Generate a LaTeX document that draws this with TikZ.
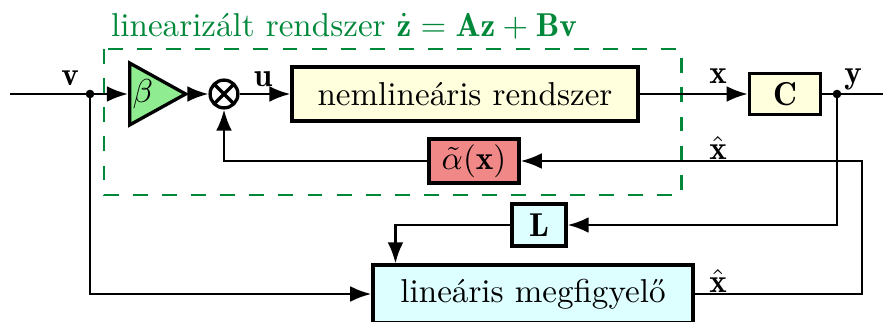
\documentclass[tikz,border=0pt]{standalone}
\usepackage{fontspec}
\usepackage{amsmath,amssymb}
\usetikzlibrary{arrows.meta,positioning,shapes.geometric}
\definecolor{dgreen}{RGB}{0,136,58}
\definecolor{lgreen}{RGB}{144,236,144}
\definecolor{lyellow}{RGB}{255,255,221}
\definecolor{lcyan}{RGB}{221,255,255}
\definecolor{lred}{RGB}{240,136,136}

\begin{document}
\begin{tikzpicture}[x=.3021pt,y=-.3021pt,>=Latex,line width=.75pt,
 blk/.style={draw,line width=1pt,inner sep=1pt},
 gain/.style={draw,line width=1pt,fill=lgreen,isosceles triangle,isosceles triangle stretches,
  minimum width=18.7pt,minimum height=14.5pt,inner sep=0pt},
 mixer/.style={draw,line width=1pt,circle,minimum size=8.4pt,inner sep=0pt,
  path picture={\draw[line width=1pt] (path picture bounding box.north west)--(path picture bounding box.south east)
   (path picture bounding box.north east)--(path picture bounding box.south west);}},
 dot/.style={circle,fill,inner sep=0pt,minimum size=2.6pt}]
 \useasboundingbox (0,0) rectangle (883,321);
 % linearizalt resz
 \draw[dgreen,line width=.9pt,dash pattern=on 4.5pt off 4.3pt] (104,49) rectangle (681,195);
 \node[text=dgreen] (ttl) at (344,26) {linearizált rendszer $\dot{\mathbf{z}}=\mathbf{Az}+\mathbf{Bv}$};
 \coordinate (in) at (10,94);
 \coordinate (out) at (883,94);
 \coordinate (fb) at (862,294);
 \node[dot] (vd) at (90,94) {};
 \node[gain,anchor=west] (g) at (128,94) {$\beta$};
 \node[mixer] (m) at (224,94) {};
 \node[blk,fill=lyellow,minimum width=104.5pt,minimum height=16.3pt] (nl) at (465,94) {nemlineáris rendszer};
 \node[blk,fill=lyellow,minimum width=21.5pt,minimum height=12.4pt] (c) at (785,94) {$\mathbf{C}$};
 \node[dot] (yd) at (837,94) {};
 \node[blk,fill=lred,minimum width=27.2pt,minimum height=13.3pt] (al) at (474,161) {$\tilde{\alpha}(\mathbf{x})$};
 \node[blk,fill=lcyan,minimum width=16.3pt,minimum height=12.7pt] (l) at (539,225) {$\mathbf{L}$};
 \node[blk,fill=lcyan,minimum width=96.7pt,minimum height=17.5pt] (obs) at (533,294) {lineáris megfigyelő};
 % jelek
 \node (lv) at (70,78) {$\mathbf{v}$};
 \node (lu) at (263,79) {$\mathbf{u}$};
 \node (lx) at (718,76) {$\mathbf{x}$};
 \node (ly) at (853,79) {$\mathbf{y}$};
 \node (lxh) at (718,148) {$\hat{\mathbf{x}}$};
 \node (lxh2) at (718,281) {$\hat{\mathbf{x}}$};
 \draw (in) -- (vd.center);
 \draw[->] (vd.center) -- (g.west);
 \draw[->] (g.east) -- (m.west);
 \draw[->] (m.east) -- (nl.west);
 \draw[->] (nl.east) -- (c.west);
 \draw (c.east) -- (yd.center) -- (out);
 \draw[->] (yd.center) |- (l.east);
 \draw[->] (l.west) -| ([xshift=7.3pt]obs.north west);
 \draw[->] (vd.center) |- (obs.west);
 \draw[->] (obs.east) -- (fb) |- (al.east);
 \draw[->] (al.west) -| (m.south);
\end{tikzpicture}
\end{document}
